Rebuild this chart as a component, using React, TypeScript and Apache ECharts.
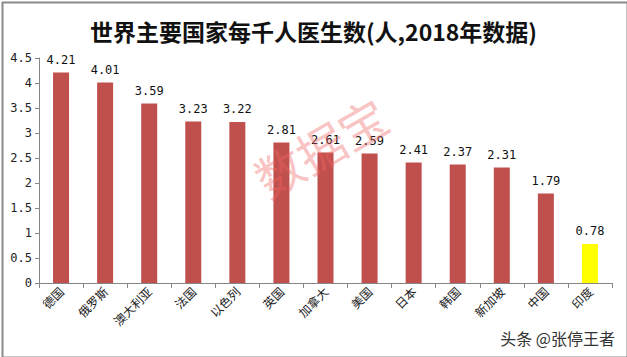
import React, { useEffect, useRef } from "react";
import * as echarts from "echarts";

const categories = ["德国", "俄罗斯", "澳大利亚", "法国", "以色列", "英国", "加拿大", "美国", "日本", "韩国", "新加坡", "中国", "印度"];
const values = [4.21, 4.01, 3.59, 3.23, 3.22, 2.81, 2.61, 2.59, 2.41, 2.37, 2.31, 1.79, 0.78];
const highlight = "印度";
const titleText = "世界主要国家每千人医生数(人,2018年数据)";
const watermark = "数据宝";
const credit = "头条 @张停王者";

export default function App() {
  const ref = useRef<HTMLDivElement>(null);
  useEffect(() => {
    if (!ref.current) return;
    const chart = echarts.init(ref.current, null, { renderer: "svg" });
    const labelFont = "'Noto Sans CJK SC', SimSun, sans-serif";
    chart.setOption({
      animation: false,
      backgroundColor: "#fff",
      title: {
        text: titleText,
        left: "center",
        top: 14,
        textStyle: { fontSize: 23, fontWeight: "bold", color: "#111", fontFamily: labelFont },
      },
      grid: { left: 39, right: 15, top: 58, bottom: 74 },
      xAxis: {
        type: "category",
        data: categories,
        boundaryGap: true,
        axisLine: { lineStyle: { color: "#868686" } },
        axisTick: { show: true, alignWithLabel: false, length: 5, lineStyle: { color: "#868686" } },
        axisLabel: { rotate: 45, fontSize: 12, color: "#222", fontFamily: labelFont, margin: 6 },
      },
      yAxis: {
        type: "value",
        min: 0,
        max: 4.5,
        interval: 0.5,
        splitLine: { show: false },
        axisLine: { show: true, lineStyle: { color: "#868686" } },
        axisTick: { show: true, length: 4, lineStyle: { color: "#868686" } },
        axisLabel: { fontSize: 12, color: "#222", fontFamily: "'DejaVu Sans Mono', monospace", margin: 7 },
      },
      series: [
        {
          type: "bar",
          barWidth: 16,
          data: values.map((v, i) => ({
            value: v,
            itemStyle: { color: categories[i] === highlight ? "#FFFF00" : "#C0504D" },
          })),
          label: {
            show: true,
            position: "top",
            distance: 7,
            fontSize: 12,
            color: "#111",
            fontFamily: "'DejaVu Sans Mono', monospace",
            formatter: (p: any) => p.value.toFixed(2),
          },
        },
      ],
      graphic: [
        {
          type: "rect",
          left: 0,
          top: 0,
          shape: { width: 625, height: 355 },
          style: { fill: "none", stroke: "#8a8a8a", lineWidth: 2 },
          silent: true,
        },
        {
          type: "text",
          x: 320,
          y: 146,
          rotation: Math.PI / 6,
          style: {
            text: watermark,
            fill: "rgba(240,100,100,0.4)",
            font: "48px 'Noto Sans CJK SC', sans-serif",
            align: "center",
            verticalAlign: "middle",
          },
          z: 10,
          silent: true,
        },
        {
          type: "text",
          right: 12,
          top: 330,
          style: {
            text: credit,
            fill: "#333",
            font: "16px 'Noto Sans CJK SC', sans-serif",
          },
          silent: true,
        },
      ],
    });
    return () => chart.dispose();
  }, []);
  return <div ref={ref} style={{ width: 627, height: 357, position: "absolute", left: 0, top: 0 }} />;
}
